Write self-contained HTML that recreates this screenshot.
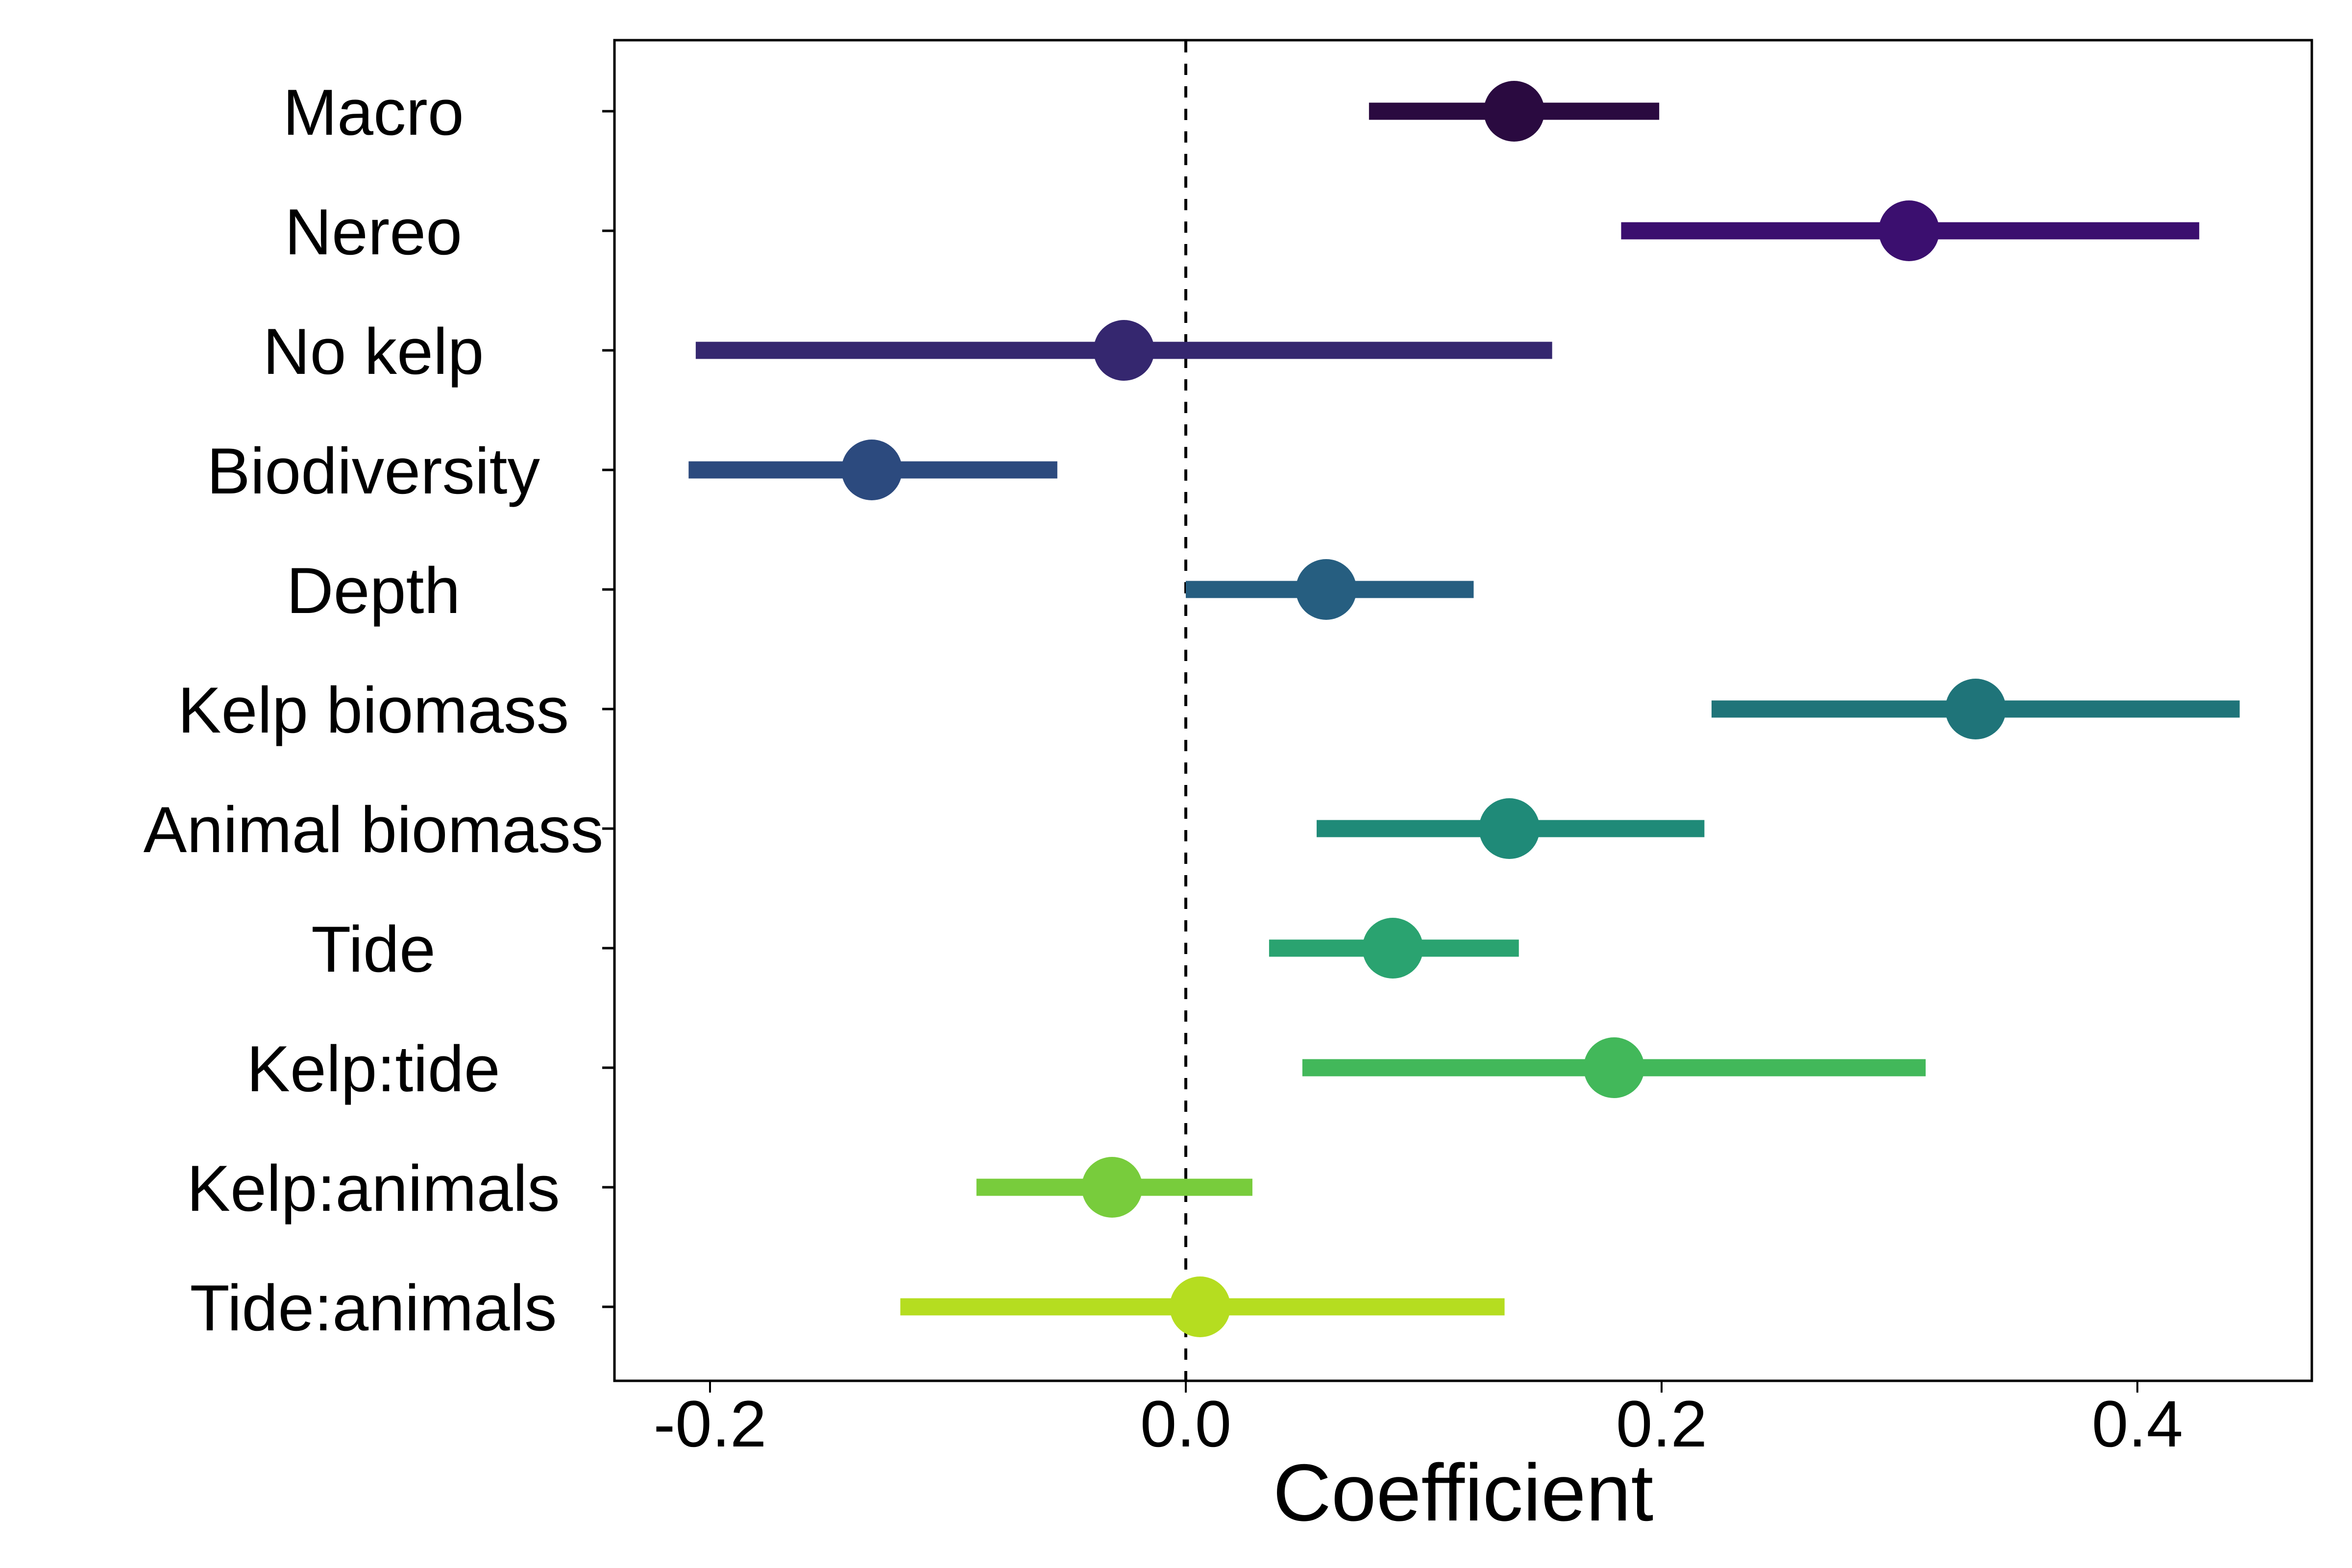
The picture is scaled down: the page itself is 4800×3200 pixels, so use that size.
<!DOCTYPE html>
<html><head><meta charset="utf-8"><style>
html,body{margin:0;padding:0;background:#fff;}
svg{display:block;font-family:"Liberation Sans",sans-serif;}
</style></head><body>
<svg id="chart" width="4800" height="3200" viewBox="0 0 4800 3200" xmlns="http://www.w3.org/2000/svg">
<rect x="0" y="0" width="4800" height="3200" fill="#fff"/>
<g id="marks"></g>
<rect x="1254" y="82" width="3464" height="2736" fill="none" stroke="#000" stroke-width="5"/>
<g id="axes"></g>
<text x="2986" y="3103" font-size="165" text-anchor="middle">Coefficient</text>
</svg>
<script>
const categories = ["Macro","Nereo","No kelp","Biodiversity","Depth","Kelp biomass","Animal biomass","Tide","Kelp:tide","Kelp:animals","Tide:animals"];
const estimates = [0.138,0.304,-0.026,-0.132,0.059,0.332,0.136,0.087,0.180,-0.031,0.006];
const lowerCI = [0.077,0.183,-0.206,-0.209,0.0,0.221,0.055,0.035,0.049,-0.088,-0.120];
const upperCI = [0.199,0.426,0.154,-0.054,0.121,0.443,0.218,0.140,0.311,0.028,0.134];
const colors = ["#2a0a40","#3b0f6f","#35276f","#2c4a7e","#265e80","#1f7479","#1f8a78","#2aa370","#42b85a","#78cc3c","#b5dd20"];
const xTicks = [-0.2,0.0,0.2,0.4];
const xTickLabels = ["-0.2","0.0","0.2","0.4"];

const NS="http://www.w3.org/2000/svg";
const X0=2420, XS=4855; // pixel of 0, pixels per unit
function xScale(v){return X0+v*XS;}
function yScale(i){return 227+i*244;}
function mk(tag,attrs,parent){const e=document.createElementNS(NS,tag);for(const k in attrs)e.setAttribute(k,attrs[k]);parent.appendChild(e);return e;}
const marks=document.getElementById('marks');
const axes=document.getElementById('axes');

const zl=mk('line',{x1:xScale(0),x2:xScale(0),y1:84,y2:2816,stroke:'#000','stroke-width':6,'stroke-dasharray':'23 23'},marks);



categories.forEach((c,i)=>{
  const y=yScale(i);
  const slug=c.toLowerCase().replace(/[^a-z]+/g,'-');
  const l=mk('line',{x1:xScale(lowerCI[i]),x2:xScale(upperCI[i]),y1:y,y2:y,stroke:colors[i],'stroke-width':35},marks);
  
  
  const p=mk('circle',{cx:xScale(estimates[i]),cy:y,r:62,fill:colors[i]},marks);
  
  
  const t=mk('line',{x1:1229,x2:1254,y1:y,y2:y,stroke:'#000','stroke-width':5},axes);
  
  
  const tx=mk('text',{x:762,y:y+48,'font-size':133,'text-anchor':'middle'},axes);
  tx.textContent=c;
  
  
});
xTicks.forEach((v,i)=>{
  const x=xScale(v);
  const t=mk('line',{x1:x,x2:x,y1:2818,y2:2842,stroke:'#000','stroke-width':4},axes);
  
  
  const tx=mk('text',{x:x,y:2952,'font-size':134,'text-anchor':'middle'},axes);
  tx.textContent=xTickLabels[i];
  
  
});
</script>
</body></html>
